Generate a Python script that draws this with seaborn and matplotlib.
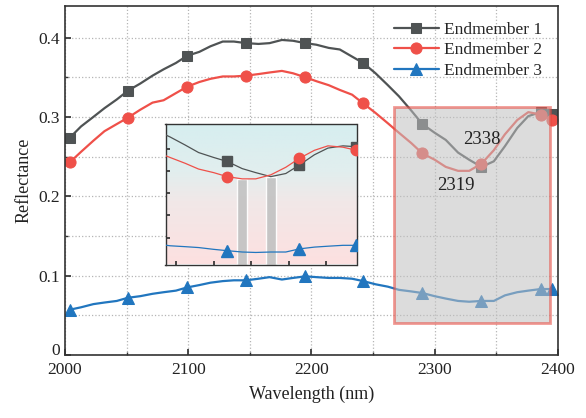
import matplotlib

matplotlib.use("Agg")
import matplotlib.pyplot as plt
import matplotlib.transforms as mtransforms
import numpy as np
import pandas as pd
import seaborn as sns
from matplotlib.colors import LinearSegmentedColormap
from matplotlib.patches import Rectangle
from matplotlib.ticker import MultipleLocator

# band centres (nm)
WAVELENGTH = [
    2004, 2013, 2023, 2032, 2042, 2051, 2061, 2071, 2080, 2090,
    2099, 2109, 2118, 2128, 2137, 2147, 2157, 2166, 2176, 2185,
    2195, 2204, 2214, 2223, 2233, 2242, 2252, 2262, 2271, 2281,
    2290, 2300, 2309, 2319, 2328, 2338, 2348, 2357, 2367, 2376,
    2386, 2395,
]
ENDMEMBER_1 = [
    0.274, 0.288, 0.300, 0.311, 0.322, 0.333, 0.342, 0.352, 0.360, 0.368,
    0.377, 0.382, 0.389, 0.395, 0.395, 0.393, 0.392, 0.393, 0.397, 0.396,
    0.393, 0.391, 0.387, 0.385, 0.376, 0.368, 0.355, 0.340, 0.326, 0.308,
    0.291, 0.280, 0.271, 0.255, 0.246, 0.237, 0.244, 0.263, 0.286, 0.301,
    0.306, 0.304,
]
ENDMEMBER_2 = [
    0.243, 0.256, 0.270, 0.282, 0.291, 0.299, 0.309, 0.318, 0.321, 0.330,
    0.338, 0.344, 0.348, 0.351, 0.351, 0.352, 0.354, 0.356, 0.358, 0.355,
    0.350, 0.345, 0.340, 0.334, 0.328, 0.317, 0.305, 0.292, 0.280, 0.267,
    0.254, 0.246, 0.237, 0.232, 0.232, 0.241, 0.258, 0.278, 0.296, 0.306,
    0.303, 0.296,
]
ENDMEMBER_3 = [
    0.057, 0.060, 0.064, 0.066, 0.068, 0.072, 0.074, 0.077, 0.079, 0.081,
    0.085, 0.088, 0.091, 0.093, 0.094, 0.094, 0.096, 0.098, 0.095, 0.097,
    0.099, 0.098, 0.097, 0.097, 0.096, 0.093, 0.089, 0.086, 0.082, 0.080,
    0.078, 0.074, 0.071, 0.068, 0.067, 0.068, 0.068, 0.075, 0.079, 0.081,
    0.083, 0.083,
]
LABELS = ["Endmember 1", "Endmember 2", "Endmember 3"]
ABSORPTION_BANDS = [2319, 2338]

COLORS = ["#4f5354", "#ef5049", "#2176bf"]
MARKERS = ["s", "o", "^"]
MSIZES = [7.5, 8, 9]

df = pd.DataFrame(
    {"wavelength": WAVELENGTH, LABELS[0]: ENDMEMBER_1, LABELS[1]: ENDMEMBER_2, LABELS[2]: ENDMEMBER_3}
)

sns.set_theme(style="ticks")
plt.rcParams["font.family"] = ["Liberation Serif", "DejaVu Serif"]
plt.rcParams["mathtext.fontset"] = "stix"

fig = plt.figure(figsize=(5.86, 4.18), dpi=100)
ax = fig.add_axes([0.111, 0.151, 0.841, 0.835])

main_marks = list(range(0, len(WAVELENGTH), 5)) + [len(WAVELENGTH) - 1]
for label, color, marker, ms in zip(LABELS, COLORS, MARKERS, MSIZES):
    sns.lineplot(
        data=df, x="wavelength", y=label, ax=ax, color=color, lw=1.6,
        marker=marker, markersize=ms, markevery=main_marks,
        markeredgecolor=color, label=label, zorder=2,
    )

ax.set_xlim(2000, 2400)
ax.set_ylim(0, 0.44)
ax.set_xticks([2000, 2100, 2200, 2300, 2400])
ax.set_yticks([0, 0.1, 0.2, 0.3, 0.4])
ax.set_yticklabels(["0", "0.1", "0.2", "0.3", "0.4"])
ax.xaxis.set_minor_locator(MultipleLocator(50))
ax.yaxis.set_minor_locator(MultipleLocator(0.05))
ax.tick_params(which="both", direction="in", labelsize=12.5, colors="#333333",
               labelcolor="#222222")
ax.tick_params(which="major", length=4)
ax.tick_params(which="minor", length=2.5)
ax.tick_params(axis="x", pad=5)
ax.grid(which="both", linestyle=":", color="#b5b5b5", lw=0.9)
for sp in ax.spines.values():
    sp.set_color("#333333")
    sp.set_linewidth(1.2)
ax.set_xlabel("Wavelength (nm)", fontsize=13, color="#222222", labelpad=6)
ax.set_ylabel("Reflectance", fontsize=13, color="#222222")

# lift the "0" label a little so it clears the "2000" below it
zero_lbl = ax.get_yticklabels()[0]
zero_lbl.set_transform(zero_lbl.get_transform()
                       + mtransforms.ScaledTranslation(0, 4 / 72, fig.dpi_scale_trans))

ax.legend(loc="upper right", frameon=False, fontsize=12.5, handlelength=2.6,
          labelspacing=0.25, borderaxespad=0.5, handletextpad=0.3)

# highlighted region
ax.add_patch(Rectangle((2267, 0.040), 127, 0.273, facecolor="#c0c0c0",
                       edgecolor="#e8463c", lw=2, alpha=0.55, zorder=3))
ax.text(2338, 0.271, "2338", ha="center", va="center", fontsize=13.5,
        color="#222222", zorder=5)
ax.text(2317, 0.2135, "2319", ha="center", va="center", fontsize=13.5,
        color="#222222", zorder=5)

# inset
ins = fig.add_axes([165.5 / 586, 1 - 264.5 / 418, 191 / 586, 140.5 / 418])
grad = LinearSegmentedColormap.from_list(
    "bg", [(0.0, "#fde0e0"), (0.45, "#f1e8e8"), (0.65, "#e2eeee"), (1.0, "#d6eef0")]
)
ins.imshow(np.linspace(0, 1, 256).reshape(-1, 1)[::-1], cmap=grad, aspect="auto",
           extent=[0, 1, 0, 1], transform=ins.transAxes, zorder=0)
inset_marks = [32, 37, 41]
for label, color, marker, ms in zip(LABELS, COLORS, MARKERS, MSIZES):
    ins.plot(df["wavelength"], df[label], color=color, lw=0.9, marker=marker,
             markersize=ms - 0.5, markevery=inset_marks, markeredgecolor=color, zorder=3)
ins.set_xlim(2268, 2395)
ins.set_ylim(0.04, 0.355)
band_tops = [ENDMEMBER_2[WAVELENGTH.index(ABSORPTION_BANDS[0])],
             ENDMEMBER_1[WAVELENGTH.index(ABSORPTION_BANDS[1])]]
ins.bar(ABSORPTION_BANDS, [t - 0.04 for t in band_tops], bottom=0.04, width=6.5,
        color="#c4c4c4", alpha=0.95, zorder=2)
ins.set_xticks([2275, 2300, 2325, 2350, 2375])
ins.set_yticks([0.1, 0.15, 0.2, 0.25, 0.3])
ins.tick_params(direction="in", length=3, labelbottom=False, labelleft=False,
                colors="#333333")
for sp in ins.spines.values():
    sp.set_color("#333333")
    sp.set_linewidth(1.0)

fig.savefig("out.png", dpi=100)
